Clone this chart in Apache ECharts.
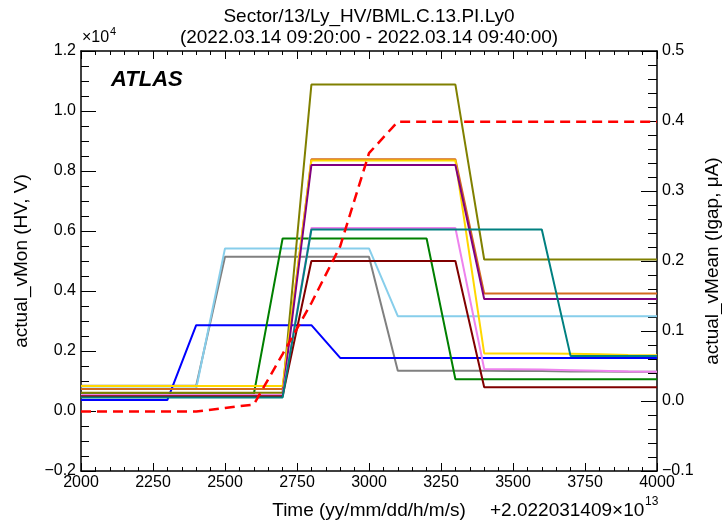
<!DOCTYPE html>
<html lang="en">
<head>
    <meta charset="UTF-8">
    <title>BML.C.13.PI.Ly0</title>
    <script src="https://cdn.jsdelivr.net/npm/echarts@6/dist/echarts.min.js"></script>
    <style>
        body { margin: 0; background: #fff; }
        .demo { width: 722px; height: 524px; }
    </style>
</head>
<body>
    <div class="demo" id="box"></div>
    <script>
        // time in yymmddhhmmss, minus 2.022031409e13
        var times = [2000, 2100, 2200, 2300, 2400, 2500, 2600, 2700, 2800, 2900, 3000,
                     3100, 3200, 3300, 3400, 3500, 3600, 3700, 3800, 3900, 4000];

        // actual_vMon (V), one list per channel
        var vGray      = [840, 840, 840, 840, 840, 5140, 5140, 5140, 5140, 5140, 5140,
                          1340, 1340, 1340, 1340, 1330, 1330, 1320, 1320, 1310, 1310];
        var vSkyblue   = [750, 750, 750, 750, 750, 5420, 5420, 5420, 5420, 5420, 5420,
                          3160, 3160, 3160, 3160, 3160, 3160, 3160, 3160, 3160, 3160];
        var vBlue      = [370, 370, 370, 370, 2860, 2860, 2860, 2860, 2860, 1770, 1770,
                          1770, 1770, 1770, 1770, 1770, 1770, 1770, 1770, 1770, 1770];
        var vGreen     = [560, 560, 560, 560, 560, 560, 560, 5750, 5750, 5750, 5750,
                          5750, 5750, 1060, 1060, 1060, 1060, 1060, 1060, 1060, 1060];
        var vOlive     = [610, 610, 610, 610, 610, 610, 610, 610, 10880, 10880, 10880,
                          10880, 10880, 10880, 5050, 5050, 5050, 5050, 5050, 5050, 5050];
        var vGold      = [830, 830, 830, 830, 830, 830, 830, 830, 8350, 8350, 8350,
                          8350, 8350, 8350, 1920, 1920, 1920, 1910, 1890, 1870, 1860];
        var vChocolate = [730, 730, 730, 730, 730, 730, 730, 730, 8390, 8390, 8390,
                          8390, 8390, 8390, 3920, 3920, 3920, 3920, 3920, 3920, 3920];
        var vPurple    = [520, 520, 520, 520, 520, 520, 520, 520, 8200, 8200, 8200,
                          8200, 8200, 8200, 3730, 3730, 3730, 3730, 3730, 3730, 3730];
        var vViolet    = [530, 530, 530, 530, 530, 530, 530, 530, 6100, 6100, 6100,
                          6100, 6100, 6100, 1400, 1390, 1380, 1360, 1340, 1320, 1310];
        var vMaroon    = [490, 490, 490, 490, 490, 490, 490, 490, 5000, 5000, 5000,
                          5000, 5000, 5000, 790, 790, 790, 790, 790, 790, 790];
        var vTeal      = [450, 450, 450, 450, 450, 450, 450, 450, 6050, 6050, 6050,
                          6050, 6050, 6050, 6050, 6050, 6050, 1830, 1830, 1830, 1830];

        // actual_vMean (uA)
        var iMean = [-0.015, -0.015, -0.015, -0.015, -0.015, -0.010, -0.005, 0.067, 0.140, 0.221, 0.354,
                     0.399, 0.399, 0.399, 0.399, 0.399, 0.399, 0.399, 0.399, 0.399, 0.399];

        var channels = [
            { name: 'gray', color: '#808080', values: vGray },
            { name: 'skyblue', color: '#87CEEB', values: vSkyblue },
            { name: 'blue', color: '#0000FF', values: vBlue },
            { name: 'green', color: '#008000', values: vGreen },
            { name: 'olive', color: '#808000', values: vOlive },
            { name: 'chocolate', color: '#D2691E', values: vChocolate },
            { name: 'gold', color: '#FFD700', values: vGold },
            { name: 'purple', color: '#800080', values: vPurple },
            { name: 'violet', color: '#EE82EE', values: vViolet },
            { name: 'maroon', color: '#800000', values: vMaroon },
            { name: 'teal', color: '#008080', values: vTeal }
        ];

        var font = "'Liberation Sans', Arial, sans-serif";

        function pairs(vals) {
            return times.map(function (t, i) { return [t, vals[i]]; });
        }
        function fmt1(v) {
            if (Math.abs(v) < 1e-9) v = 0;
            return v.toFixed(1).replace('-', '\u2212');
        }

        var series = channels.map(function (c) {
            return {
                name: c.name,
                type: 'line',
                xAxisIndex: 0,
                yAxisIndex: 0,
                symbol: 'none',
                lineStyle: { color: c.color, width: 2 },
                itemStyle: { color: c.color },
                data: pairs(c.values)
            };
        });
        series.push({
            name: 'vMean',
            type: 'line',
            xAxisIndex: 0,
            yAxisIndex: 1,
            symbol: 'none',
            lineStyle: { color: '#FF0000', width: 2.5, type: [10, 6] },
            itemStyle: { color: '#FF0000' },
            data: pairs(iMean)
        });

        var axisLine = { show: true, onZero: false, lineStyle: { color: '#000', width: 1.5 } };
        var labelStyle = { color: '#000', fontSize: 16, fontFamily: font };
        var nameStyle = { color: '#000', fontSize: 19, fontFamily: font };

        var myChart = echarts.init(document.getElementById('box'));
        var option = {
            animation: false,
            backgroundColor: '#fff',
            grid: { left: 81, right: 65, top: 51, bottom: 53, outerBoundsMode: 'none' },
            xAxis: [
                {
                    type: 'value', position: 'bottom',
                    min: 2000, max: 4000, interval: 250,
                    axisLine: axisLine,
                    axisTick: { inside: true, length: 8, lineStyle: { color: '#000' } },
                    minorTick: { show: true, splitNumber: 5, length: 4, lineStyle: { color: '#000' } },
                    splitLine: { show: false },
                    axisLabel: Object.assign({
                        margin: 4, showMinLabel: true, showMaxLabel: true,
                        formatter: function (v) { return String(v); }
                    }, labelStyle),
                    name: 'Time (yy/mm/dd/h/m/s)',
                    nameLocation: 'middle',
                    nameGap: 30,
                    nameMoveOverlap: false,
                    nameTextStyle: nameStyle
                },
                {
                    type: 'value', position: 'top',
                    min: 2000, max: 4000, interval: 250,
                    axisLine: axisLine,
                    axisTick: { inside: true, length: 8, lineStyle: { color: '#000' } },
                    minorTick: { show: true, splitNumber: 5, length: 4, lineStyle: { color: '#000' } },
                    splitLine: { show: false },
                    axisLabel: { show: false }
                }
            ],
            yAxis: [
                {
                    type: 'value', position: 'left',
                    min: -2000, max: 12000, interval: 2000,
                    axisLine: axisLine,
                    axisTick: { inside: true, length: 15, lineStyle: { color: '#000' } },
                    minorTick: { show: true, splitNumber: 4, length: 8, lineStyle: { color: '#000' } },
                    splitLine: { show: false },
                    axisLabel: Object.assign({
                        margin: 5, showMinLabel: true, showMaxLabel: true,
                        formatter: function (v) { return fmt1(v / 1e4); }
                    }, labelStyle),
                    name: 'actual_vMon (HV, V)',
                    nameLocation: 'middle',
                    nameRotate: 90,
                    nameGap: 50,
                    nameMoveOverlap: false,
                    nameTextStyle: nameStyle
                },
                {
                    type: 'value', position: 'right',
                    min: -0.1, max: 0.5, interval: 0.1,
                    alignTicks: false,
                    axisLine: axisLine,
                    axisTick: { inside: true, length: 16, lineStyle: { color: '#000' } },
                    minorTick: { show: true, splitNumber: 5, length: 9, lineStyle: { color: '#000' } },
                    splitLine: { show: false },
                    axisLabel: Object.assign({
                        margin: 5, showMinLabel: true, showMaxLabel: true,
                        formatter: fmt1
                    }, labelStyle),
                    name: 'actual_vMean (Igap, \u03bcA)',
                    nameLocation: 'middle',
                    nameRotate: 90,
                    nameGap: 46,
                    nameMoveOverlap: false,
                    nameTextStyle: nameStyle
                }
            ],
            graphic: [
                { type: 'text', x: 369, y: 17, style: { text: 'Sector/13/Ly_HV/BML.C.13.PI.Ly0', font: '19px ' + font, fill: '#000', textAlign: 'center', textVerticalAlign: 'middle' } },
                { type: 'text', x: 369, y: 38, style: { text: '(2022.03.14 09:20:00 - 2022.03.14 09:40:00)', font: '19px ' + font, fill: '#000', textAlign: 'center', textVerticalAlign: 'middle' } },
                { type: 'text', x: 82, y: 38, style: { text: '\u00d710', font: '16px ' + font, fill: '#000', textVerticalAlign: 'middle' } },
                { type: 'text', x: 110, y: 32, style: { text: '4', font: '11px ' + font, fill: '#000', textVerticalAlign: 'middle' } },
                { type: 'text', x: 111, y: 80, style: { text: 'ATLAS', font: 'italic bold 22px ' + font, fill: '#000', textVerticalAlign: 'middle' } },
                { type: 'text', x: 490, y: 511, style: { text: '+2.022031409\u00d710', font: '19px ' + font, fill: '#000', textVerticalAlign: 'middle' } },
                { type: 'text', x: 645, y: 502, style: { text: '13', font: '12px ' + font, fill: '#000', textVerticalAlign: 'middle' } }
            ],
            series: series
        };

        myChart.setOption(option);
    </script>
</body>
</html>
